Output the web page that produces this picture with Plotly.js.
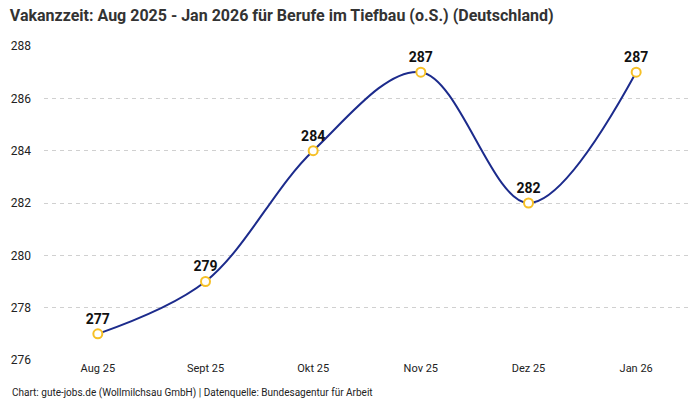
<!DOCTYPE html>
<html>
<head>
<meta charset="utf-8">
<script src="https://cdn.plot.ly/plotly-3.0.1.min.js"></script>
<style>
  html, body { margin: 0; padding: 0; background: #fff; }
  #chart { width: 700px; height: 400px; }
</style>
</head>
<body>
<div id="chart"></div>
<script>
// Vakanzzeit in Tagen, Tiefbau (o.S.)
var months = ['Aug 25', 'Sept 25', 'Okt 25', 'Nov 25', 'Dez 25', 'Jan 26'];
var vakanzzeit = [277, 279, 284, 287, 282, 287];
var yTicks = [276, 278, 280, 282, 284, 286, 288];

var font = 'Roboto, "Noto Sans", sans-serif';

var trace = {
	x: months,
	y: vakanzzeit,
	type: 'scatter',
	mode: 'lines+markers+text',
	line: {color: '#1c2b8c', width: 2, shape: 'spline', smoothing: 1},
	marker: {size: 9, color: '#ffffff', line: {color: '#f6c026', width: 2}},
	text: vakanzzeit.map(String),
	textposition: 'top center',
	textfont: {family: font, size: 14, color: '#111'},
	texttemplate: '<b>%{text}</b>',
	cliponaxis: false,
	hoverinfo: 'skip'
};

var layout = {
	width: 700,
	height: 400,
	margin: {l: 44, r: 10, t: 46, b: 40},
	paper_bgcolor: '#fff',
	plot_bgcolor: '#fff',
	showlegend: false,
	font: {family: font, size: 11, color: '#222'},
	title: {
		text: '<b>Vakanzzeit: Aug 2025 - Jan 2026 für Berufe im Tiefbau (o.S.) (Deutschland)</b>',
		x: 0.014, xanchor: 'left', y: 0.975, yanchor: 'top',
		font: {family: font, size: 16, color: '#333'}
	},
	xaxis: {
		type: 'category',
		range: [-0.5, 5.5],
		showgrid: false,
		zeroline: false,
		showline: false,
		ticks: '',
		tickfont: {family: font, size: 11, color: '#222'}
	},
	yaxis: {
		range: [276, 288],
		tickvals: yTicks,
		showgrid: true,
		gridcolor: '#d0d0d0',
		griddash: '4px,4px',
		gridwidth: 1,
		zeroline: false,
		showline: false,
		ticks: '',
		ticklabelstandoff: 12,
		tickfont: {family: font, size: 12, color: '#222'}
	},
	annotations: [{
		text: 'Chart: gute-jobs.de (Wollmilchsau GmbH) | Datenquelle: Bundesagentur für Arbeit',
		xref: 'paper', yref: 'paper',
		x: -0.052, y: -0.105, xanchor: 'left', yanchor: 'middle',
		showarrow: false,
		font: {family: font, size: 10, color: '#222'}
	}]
};

Plotly.newPlot('chart', [trace], layout, {displayModeBar: false, staticPlot: true});
</script>
</body>
</html>
